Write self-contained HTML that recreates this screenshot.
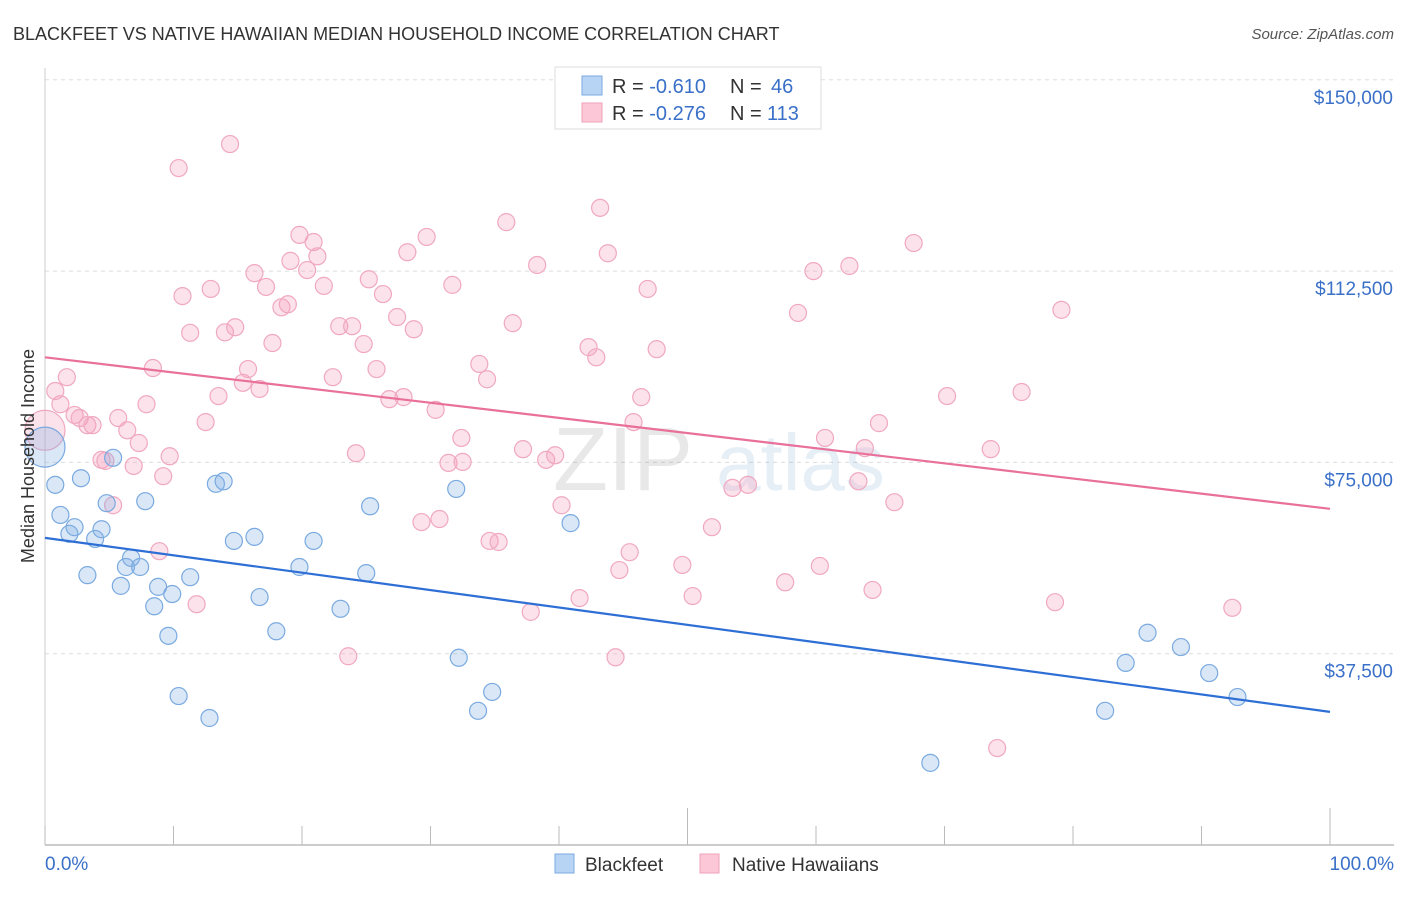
<!DOCTYPE html>
<html><head><meta charset="utf-8"><style>
body{margin:0;background:#fff;font-family:"Liberation Sans",sans-serif;}
svg text{font-family:"Liberation Sans",sans-serif;}
</style></head><body>
<svg id="chart" width="1406" height="892" xmlns="http://www.w3.org/2000/svg">
<text x="13" y="40" font-size="18" fill="#333">BLACKFEET VS NATIVE HAWAIIAN MEDIAN HOUSEHOLD INCOME CORRELATION CHART</text>
<text x="1394" y="39" font-size="15" fill="#555" text-anchor="end" font-style="italic">Source: ZipAtlas.com</text>
<g id="grid"></g>
<g opacity="0.13">
<text x="553" y="490" font-size="90" font-family="Liberation Serif" fill="#555">ZIP</text>
<text x="716" y="490" font-size="80" fill="#4a7fc0">atlas</text>
</g>
<g id="points"></g>
<g id="lines"></g>
<text transform="translate(34,456) rotate(-90)" font-size="18" fill="#333" text-anchor="middle">Median Household Income</text>
<g>
<rect x="555" y="67" width="266" height="62" fill="#fff" stroke="#ddd"/>
<rect x="582" y="76" width="20" height="19" fill="#b8d4f5" stroke="#7aaae0"/>
<rect x="582" y="103" width="20" height="19" fill="#fcc8d8" stroke="#f0a0b8"/>
<text x="612" y="93" font-size="20" fill="#333">R = <tspan fill="#3a70c8">-0.610</tspan></text>
<text x="730" y="93" font-size="20" fill="#333">N = <tspan fill="#3a70c8" x="771">46</tspan></text>
<text x="612" y="120" font-size="20" fill="#333">R = <tspan fill="#3a70c8">-0.276</tspan></text>
<text x="730" y="120" font-size="20" fill="#333">N = <tspan fill="#3a70c8" x="767">113</tspan></text>
</g>
<g>
<rect x="555" y="854" width="19" height="19" fill="#b8d4f5" stroke="#7aaae0"/>
<text x="585" y="871" font-size="19" fill="#333">Blackfeet</text>
<rect x="700" y="854" width="19" height="19" fill="#fcc8d8" stroke="#f0a0b8"/>
<text x="732" y="871" font-size="19" fill="#333">Native Hawaiians</text>
</g>
</svg>
<script>
const yTicks=[37500,75000,112500,150000];
const yTickLabels=["$37,500","$75,000","$112,500","$150,000"];
const xTicks=[0,10,20,30,40,50,60,70,80,90,100];
const xLabels=["0.0%","100.0%"];
const blueX=[0,0.8,1.2,2.3,1.9,2.8,3.3,3.9,4.4,4.8,5.3,5.9,6.3,6.7,7.4,7.8,8.5,8.8,9.6,9.9,10.4,11.3,12.8,13.3,13.9,14.7,16.3,16.7,18.0,19.8,20.9,23.0,25.0,25.3,32.0,32.2,33.7,34.8,40.9,68.9,82.5,84.1,85.8,88.4,90.6,92.8];
const blueY=[78.0,70.6,64.7,62.3,61.0,71.9,52.9,60.0,61.9,67.0,75.9,50.8,54.5,56.3,54.5,67.4,46.8,50.6,41.0,49.2,29.2,52.5,24.9,70.8,71.3,59.6,60.4,48.6,41.9,54.5,59.6,46.3,53.3,66.4,69.8,36.7,26.3,30.0,63.1,16.1,26.3,35.7,41.6,38.8,33.7,29.0];
const pinkX=[0,0.8,1.2,1.7,2.3,2.7,3.3,3.7,4.4,4.7,5.3,5.7,6.4,6.9,7.3,7.9,8.4,8.9,9.2,9.7,10.4,10.7,11.3,11.8,12.5,12.9,13.5,14.0,14.4,14.8,15.4,15.8,16.3,16.7,17.2,17.7,18.4,18.9,19.1,19.8,20.4,20.9,21.2,21.7,22.4,22.9,23.6,23.9,24.2,24.8,25.2,25.8,26.3,26.8,27.4,27.9,28.2,28.7,29.3,29.7,30.4,30.7,31.4,31.7,32.4,32.5,33.8,34.4,34.6,35.3,35.9,36.4,37.2,37.8,38.3,39.0,39.7,40.2,41.6,42.3,42.9,43.2,43.8,44.4,44.7,45.5,45.8,46.4,46.9,47.6,49.6,50.4,51.9,53.5,54.7,57.6,58.6,59.8,60.3,60.7,62.6,63.3,63.8,64.4,64.9,66.1,67.6,70.2,73.6,74.1,76.0,78.6,79.1,92.4];
const pinkY=[81.3,89.0,86.4,91.7,84.3,83.7,82.3,82.3,75.5,75.3,66.6,83.7,81.3,74.3,78.8,86.4,93.5,57.6,72.3,76.2,132.7,107.6,100.4,47.2,82.9,109.0,88.0,100.5,137.4,101.5,90.6,93.3,112.1,89.4,109.4,98.4,105.4,106.0,114.5,119.6,112.7,118.2,115.4,109.6,91.7,101.7,37.0,101.7,76.8,98.2,110.9,93.3,108.0,87.4,103.5,87.8,116.2,101.1,63.3,119.2,85.3,63.9,74.9,109.8,79.8,75.1,94.3,91.3,59.6,59.4,122.1,102.3,77.6,45.7,113.7,75.5,76.4,66.6,48.4,97.6,95.6,124.9,116.0,36.8,53.9,57.4,82.9,87.8,109.0,97.2,54.9,48.8,62.3,70.0,70.6,51.5,104.3,112.5,54.7,79.8,113.5,71.3,77.8,50.0,82.7,67.2,118.0,88.0,77.6,19.0,88.8,47.6,104.9,46.5];
const blueTrend=[60.2,26.1];
const pinkTrend=[95.6,65.9];
const X0=45,X1=1330,YB=845;
const xs=v=>X0+(X1-X0)*v/100;
const ys=v=>YB-v*1000*(191.3/37500);
const NS="http://www.w3.org/2000/svg";
function mk(t,a,p){const e=document.createElementNS(NS,t);for(const k in a)e.setAttribute(k,a[k]);p.appendChild(e);return e;}
const grid=document.getElementById('grid');
yTicks.forEach((t,i)=>{
 const yy=ys(t/1000);
 const l=mk('line',{x1:X0,x2:1394,y1:yy,y2:yy,stroke:'#ddd','stroke-dasharray':'4,4'},grid);
 
 
 const tx=mk('text',{x:1393,y:yy+24,'font-size':19,fill:'#3a70c8','text-anchor':'end'},grid);
 tx.textContent=yTickLabels[i];
 
 
});
const ya=mk('line',{x1:X0,x2:X0,y1:68,y2:YB,stroke:'#ccc'},grid);


const xa=mk('line',{x1:X0,x2:1394,y1:YB,y2:YB,stroke:'#bbb','stroke-width':1.5},grid);


xTicks.forEach(t=>{
 const major=(t%50===0&&t>0);
 const l=mk('line',{x1:xs(t),x2:xs(t),y1:major?808:826,y2:YB,stroke:'#bbb'},grid);
 
 
});
[[0,'start',45],[100,'end',1394]].forEach((d,i)=>{
 const tx=mk('text',{x:d[2],y:870,'font-size':19,fill:'#3a70c8','text-anchor':d[1]},grid);
 tx.textContent=xLabels[i];
 
 
});
const pts=document.getElementById('points');
function drawSeries(X,Y,fill,stroke,name){
 X.forEach((x,i)=>{
  const c=mk('circle',{cx:xs(x),cy:ys(Y[i]),r:i===0?20:8.5,fill:fill,stroke:stroke,'stroke-width':1.2},pts);
  
  
 });
}
drawSeries(pinkX,pinkY,'rgba(244,160,190,0.3)','#f0a8c0','native-hawaiian-point');
drawSeries(blueX,blueY,'rgba(130,175,230,0.3)','#7aaae0','blackfeet-point');
const lines=document.getElementById('lines');
const bl=mk('line',{x1:xs(0),x2:xs(100),y1:ys(blueTrend[0]),y2:ys(blueTrend[1]),stroke:'#2e6fd6','stroke-width':2.2},lines);


const pl=mk('line',{x1:xs(0),x2:xs(100),y1:ys(pinkTrend[0]),y2:ys(pinkTrend[1]),stroke:'#e8709a','stroke-width':2.2},lines);


</script>
</body></html>
